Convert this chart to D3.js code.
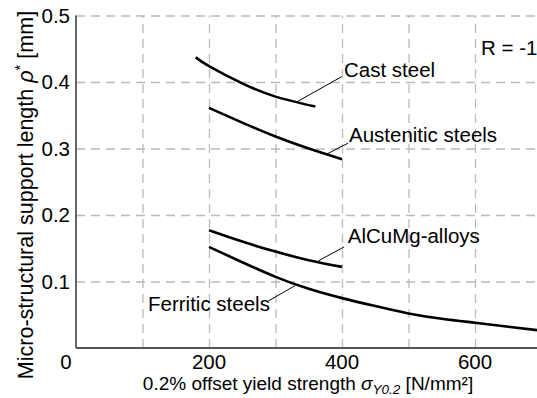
<!DOCTYPE html>
<html>
<head>
<meta charset="utf-8">
<script src="https://cdn.jsdelivr.net/npm/d3@7"></script>
<style>
  body { margin: 0; background: #fff; }
  text { font-family: "Liberation Sans", Arial, sans-serif; }
</style>
</head>
<body>
<div id="plot"></div>
<script>
  const w = 537;
  const h = 398;

  // data
  const castX = [180, 200, 250, 300, 360];
  const castY = [0.437, 0.424, 0.398, 0.378, 0.363];
  const austX = [200, 250, 300, 350, 400];
  const austY = [0.361, 0.339, 0.318, 0.300, 0.284];
  const alX = [200, 250, 300, 350, 400];
  const alY = [0.177, 0.160, 0.145, 0.132, 0.122];
  const ferrX = [200, 250, 300, 350, 400, 450, 500, 550, 600, 650, 700];
  const ferrY = [0.152, 0.129, 0.107, 0.089, 0.075, 0.063, 0.052, 0.044, 0.038, 0.032, 0.026];

  const xTicks = [200, 400, 600];
  const yTicks = [0.1, 0.2, 0.3, 0.4, 0.5];
  const xGrid = [100, 200, 300, 400, 500, 600, 700];

  // labels: text position and leader line, in data units
  const labels = [
    {text: "Cast steel", x: 403, y: 0.4075, lx: [399.5, 331.9], ly: [0.408, 0.370]},
    {text: "Austenitic steels", x: 410.5, y: 0.310, lx: [409, 377.9], ly: [0.308, 0.292]},
    {text: "AlCuMg-alloys", x: 408.6, y: 0.158, lx: [403, 364.4], ly: [0.152, 0.131]},
    {text: "Ferritic steels", x: 108.3, y: 0.056, lx: [289.2, 329.3], ly: [0.0707, 0.0937]}
  ];

  const x = d3.scaleLinear().domain([0, 700]).range([76, 541.5]);
  const y = d3.scaleLinear().domain([0, 0.5]).range([348, 15.5]);

  const svg = d3.select("div#plot")
    .append("svg")
      .attr("width", w)
      .attr("height", h);

  // grid
  svg.append("g")
      .attr("class", "xGrid")
      .attr("transform", `translate(0, ${y(0)})`)
      .call(d3.axisBottom(x).tickValues(xGrid).tickSize(-(y(0) - y(0.5))).tickFormat(""))
      .call(g => g.select(".domain").remove());

  svg.append("g")
      .attr("class", "yGrid")
      .attr("transform", `translate(${x(0)}, 0)`)
      .call(d3.axisLeft(y).tickValues(yTicks).tickSize(-(w - x(0))).tickFormat(""))
      .call(g => g.select(".domain").remove());

  svg.selectAll(".xGrid line, .yGrid line")
      .attr("stroke", "#bbb")
      .attr("stroke-width", 1.3)
      .attr("stroke-dasharray", "9,6");

  // axes lines
  svg.append("line")
      .attr("x1", x(0)).attr("x2", x(0))
      .attr("y1", y(0.5)).attr("y2", y(0))
      .attr("stroke", "#555").attr("stroke-width", 1.8);
  svg.append("line")
      .attr("x1", x(0)).attr("x2", w)
      .attr("y1", y(0)).attr("y2", y(0))
      .attr("stroke", "#555").attr("stroke-width", 1.8);

  // tick labels
  svg.append("g")
    .selectAll("text")
    .data(yTicks)
    .join("text")
      .attr("x", x(0) - 6)
      .attr("y", d => y(d))
      .attr("dy", "0.35em")
      .attr("text-anchor", "end")
      .attr("font-size", 20.5)
      .text(d => d3.format(".1f")(d));

  svg.append("g")
    .selectAll("text")
    .data(xTicks)
    .join("text")
      .attr("x", d => x(d))
      .attr("y", 369)
      .attr("text-anchor", "middle")
      .attr("font-size", 20.5)
      .text(d => d);

  svg.append("text")
      .attr("x", 66)
      .attr("y", 369)
      .attr("text-anchor", "middle")
      .attr("font-size", 20.5)
      .text("0");

  // curves
  const line = d3.line()
      .x(d => x(d[0]))
      .y(d => y(d[1]))
      .curve(d3.curveNatural);

  const series = [[castX, castY], [austX, austY], [alX, alY], [ferrX, ferrY]];

  svg.append("g")
    .selectAll("path")
    .data(series)
    .join("path")
      .attr("d", s => line(d3.zip(s[0], s[1])))
      .attr("fill", "none")
      .attr("stroke", "#000")
      .attr("stroke-width", 2.6);

  // annotations
  svg.append("g")
    .selectAll("line")
    .data(labels)
    .join("line")
      .attr("x1", d => x(d.lx[0])).attr("x2", d => x(d.lx[1]))
      .attr("y1", d => y(d.ly[0])).attr("y2", d => y(d.ly[1]))
      .attr("stroke", "#000")
      .attr("stroke-width", 1);

  svg.append("g")
    .selectAll("text")
    .data(labels)
    .join("text")
      .attr("x", d => x(d.x))
      .attr("y", d => y(d.y))
      .attr("font-size", 20.5)
      .text(d => d.text);

  svg.append("text")
      .attr("x", x(609))
      .attr("y", y(0.4406))
      .attr("font-size", 20.5)
      .text("R = -1");

  // axis titles
  const xt = svg.append("text")
      .attr("x", 308)
      .attr("y", 390)
      .attr("text-anchor", "middle")
      .attr("font-size", 19);
  xt.append("tspan").text("0.2% offset yield strength ");
  xt.append("tspan").attr("font-style", "italic").text("σ");
  xt.append("tspan").attr("font-style", "italic").attr("font-size", 13.5).attr("dy", 4).text("Y0.2");
  xt.append("tspan").attr("dy", -4).text(" [N/mm²]");

  const yt = svg.append("text")
      .attr("transform", `translate(33, 195) rotate(-90)`)
      .attr("text-anchor", "middle")
      .attr("font-size", 21.5);
  yt.append("tspan").text("Micro-structural support length ");
  yt.append("tspan").attr("font-style", "italic").text("ρ");
  yt.append("tspan").attr("font-size", 15).attr("dy", -8).text("*");
  yt.append("tspan").attr("dy", 8).text(" [mm]");
</script>
</body>
</html>
